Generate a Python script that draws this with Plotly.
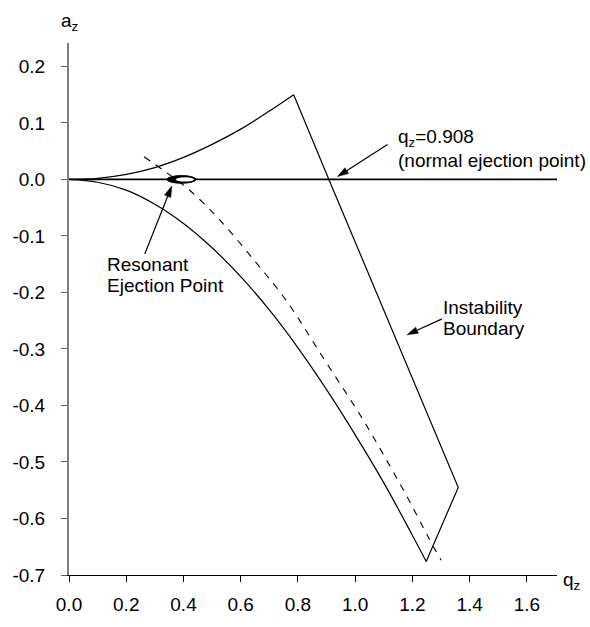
import math
import plotly.graph_objects as go

# Stability diagram in (q_z, a_z) space
# Upper boundary (beta_r = 0) from origin to the apex
upper_q = [0.0, 0.1, 0.2, 0.3, 0.4, 0.5, 0.6, 0.7, 0.785]
upper_a = [0.0, 0.002, 0.009, 0.021, 0.039, 0.062, 0.089, 0.121, 0.150]

# Right-hand instability boundary: apex -> a_z = 0 crossing -> corner -> lower vertex
normal_q = 0.908
boundary_q = [0.785, normal_q, 1.36, 1.248]
boundary_a = [0.150, 0.0, -0.545, -0.676]

# Lower boundary (beta_z = 0) from origin to the lower vertex
lower_q = [0.0, 0.1, 0.2, 0.3, 0.4, 0.5, 0.6, 0.7, 0.8, 0.9, 1.0, 1.1, 1.2, 1.248]
lower_a = [0.0, -0.005, -0.019, -0.044, -0.078, -0.121, -0.172, -0.231,
           -0.298, -0.372, -0.452, -0.537, -0.630, -0.676]

# Dashed scan line
scan_q = [0.262, 0.33, 0.40, 0.47, 0.54, 0.65, 0.76, 0.90, 1.026, 1.12, 1.187, 1.25, 1.30]
scan_a = [0.040, 0.016, -0.010, -0.042, -0.079, -0.145, -0.215, -0.325,
          -0.424, -0.506, -0.567, -0.628, -0.674]

# a_z = 0 operating line
axis_line_q = [0.0, 1.705]
axis_line_a = [0.0, 0.0]

# Resonant ejection point (ellipse centre and half-sizes)
res_q, res_a = 0.393, 0.0
res_half_q, res_half_a = 0.0505, 0.0068

x_ticks = [0.0, 0.2, 0.4, 0.6, 0.8, 1.0, 1.2, 1.4, 1.6]
x_ticktext = ["0.0", "0.2", "0.4", "0.6", "0.8", "1.0", "1.2", "1.4", "1.6"]
y_ticks = [-0.7, -0.6, -0.5, -0.4, -0.3, -0.2, -0.1, 0.0, 0.1, 0.2]
y_ticktext = ["-0.7", "-0.6", "-0.5", "-0.4", "-0.3", "-0.2", "-0.1", "0.0", "0.1", "0.2"]

FONT = "Liberation Sans, Arial, sans-serif"
W, H = 590, 627
ML, MR, MT, MB = 62, 33, 43, 36
PW, PH = W - ML - MR, H - MT - MB


def px(x):
    return (x - ML) / PW


def py(y):
    return (H - MB - y) / PH


line = dict(color="black", width=1.2)
fig = go.Figure()
fig.add_trace(go.Scatter(x=axis_line_q, y=axis_line_a, mode="lines",
                         line=dict(color="black", width=1.6), hoverinfo="skip"))
fig.add_trace(go.Scatter(x=upper_q, y=upper_a, mode="lines", line=line, line_shape="spline"))
fig.add_trace(go.Scatter(x=boundary_q, y=boundary_a, mode="lines", line=line))
fig.add_trace(go.Scatter(x=lower_q, y=lower_a, mode="lines", line=line, line_shape="spline"))
fig.add_trace(go.Scatter(x=scan_q, y=scan_a, mode="lines", line_shape="spline",
                         line=dict(color="black", width=1.1, dash="7px,7px")))

# Resonant ejection point: dark outer ellipse with lighter core shifted right
fig.add_shape(type="circle", xref="x", yref="y", layer="above",
              x0=res_q - res_half_q, x1=res_q + res_half_q,
              y0=res_a - res_half_a, y1=res_a + res_half_a,
              fillcolor="black", line=dict(color="black", width=1))
fig.add_shape(type="circle", xref="x", yref="y", layer="above",
              x0=res_q - res_half_q * 0.40, x1=res_q + res_half_q * 0.87,
              y0=res_a - res_half_a * 0.55, y1=res_a + res_half_a * 0.55,
              fillcolor="white", line=dict(width=0))


def arrow(q, a, ax, ay, head=11.0, half=3.4):
    """Arrow whose tip sits at data point (q, a); tail offset (ax, ay) in screen pixels."""
    tx, ty = ax, -ay                      # pixel-mode paths use y pointing up
    n = math.hypot(tx, ty)
    ux, uy = tx / n, ty / n
    bx, by = ux * head, uy * head
    wx, wy = -uy * half, ux * half
    common = dict(type="path", xref="x", yref="y", xsizemode="pixel", ysizemode="pixel",
                  xanchor=q, yanchor=a, layer="above")
    fig.add_shape(path=f"M{tx:.2f},{ty:.2f} L{bx:.2f},{by:.2f}",
                  line=dict(color="black", width=1.2), **common)
    fig.add_shape(path=f"M0,0 L{bx + wx:.2f},{by + wy:.2f} L{bx - wx:.2f},{by - wy:.2f} Z",
                  fillcolor="black", line=dict(color="black", width=0.5), **common)


arrow(normal_q + 0.03, 0.005, 50, -32)
arrow(res_q - 0.034, -0.0117, -27, 68)
arrow(1.181, -0.275, 35, -16)

annotations = []
txt = dict(font=dict(family=FONT, size=19, color="black"), showarrow=False,
           xref="paper", yref="paper", yanchor="middle")


def label(text, x, y, anchor="left"):
    annotations.append(dict(text=text, x=px(x), y=py(y), xanchor=anchor, **txt))


label("a<sub>z</sub>", 52, 21)
label("q<sub>z</sub>", 561, 597)
label("q<sub>z</sub>=0.908", 394, 141)
label("(normal ejection point)", 394, 164)
label("Resonant", 99, 271)
label("Ejection Point", 99, 293)
label("Instability", 439, 315)
label("Boundary", 439, 337)

fig.update_layout(
    width=W, height=H, margin=dict(l=ML, r=MR, t=MT, b=MB),
    paper_bgcolor="white", plot_bgcolor="white", showlegend=False,
    font=dict(family=FONT, size=19, color="black"),
    annotations=annotations,
    xaxis=dict(range=[0, 1.705], tickvals=x_ticks, ticktext=x_ticktext,
               showline=True, linecolor="black", linewidth=1.3,
               ticks="outside", ticklen=6, tickcolor="black", tickwidth=1,
               showgrid=False, zeroline=False, ticklabelstandoff=6),
    yaxis=dict(range=[-0.7, 0.2414], tickvals=y_ticks, ticktext=y_ticktext,
               showline=True, linecolor="#808080", linewidth=2,
               ticks="outside", ticklen=6, tickcolor="#606060", tickwidth=1,
               showgrid=False, zeroline=False, ticklabelstandoff=12),
)

fig.write_html("out.html")
